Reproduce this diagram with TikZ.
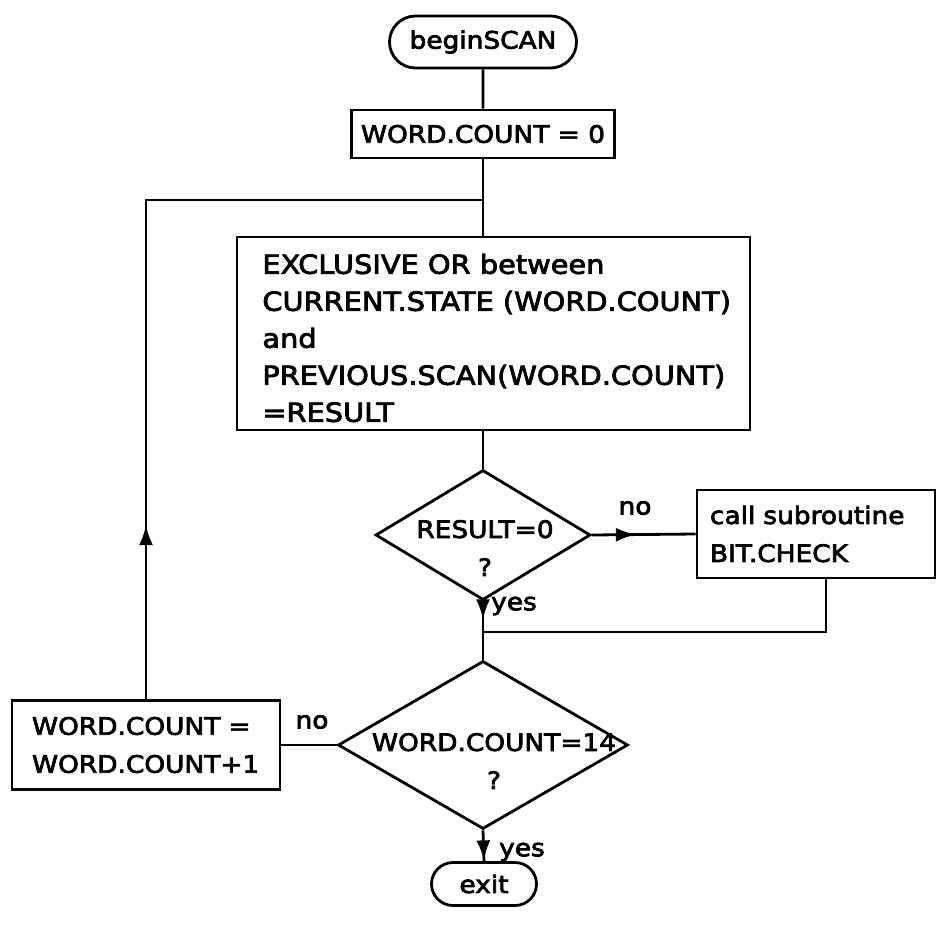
\documentclass[tikz,border=0pt]{standalone}
\usepackage{fontspec}
\setmainfont{DejaVu Sans}[FakeStretch=1.1,FakeBold=3]
\usetikzlibrary{shapes.geometric,shapes.misc,decorations.markings,arrows.meta}
\begin{document}
\begin{tikzpicture}[x=0.5pt,y=-0.5pt]
\tikzset{
  flowline/.style={line width=1.4pt},
  txt/.style={font=\fontsize{12}{19}\selectfont},
  box/.style={draw, flowline, txt, rectangle, inner sep=0pt},
  term/.style={draw, flowline, txt, rounded rectangle, inner sep=0pt},
  decision/.style={draw, flowline, diamond, inner sep=0pt},
  lbl/.style={txt, inner sep=0pt},
  arrowat/.style={postaction={decorate},
    decoration={markings, mark=at position #1 with {\arrow{Latex[length=10pt,width=7pt]}}}},
}
\path[use as bounding box] (0,0) rectangle (938,938);

% process steps
\node[term, minimum width=93.5pt, minimum height=26pt] (start) at (483,42) {beginSCAN};
\node[box, minimum width=131.5pt, minimum height=24pt] (init) at (483,134) {WORD.COUNT = 0};
\node[box, minimum width=256.5pt, minimum height=96.5pt] (big) at (493.5,333.5) {};
\node[anchor=west, inner sep=0pt, align=left, font=\fontsize{13.1}{18.5}\selectfont] (bigtext) at (262,338)
  {EXCLUSIVE OR between\\CURRENT.STATE (WORD.COUNT)\\and\\PREVIOUS.SCAN(WORD.COUNT)\\=RESULT};

% first decision
\node[decision, minimum width=107.5pt, minimum height=65pt] (d1) at (483,535) {};
\node[txt, align=center, inner sep=0pt] (d1t) at (485,548) {RESULT=0\\?};
\node[box, minimum width=119pt, minimum height=44pt, text width=106pt, align=left] (call) at (816,534)
  {call subroutine\\BIT.CHECK};

% second decision
\node[decision, minimum width=145pt, minimum height=84pt] (d2) at (483,745) {};
\node[txt, align=center, inner sep=0pt] (d2t) at (494,761) {WORD.COUNT=14\\?};
\node[box, minimum width=134pt, minimum height=44.5pt, text width=114pt, align=left] (inc) at (146,745)
  {WORD.COUNT =\\WORD.COUNT+1};

\node[term, minimum width=52.5pt, minimum height=21.5pt] (exit) at (484,884) {exit};

% branch labels
\node[lbl] (no1) at (635,508) {no};
\node[lbl] (yes1) at (514,606) {yes};
\node[lbl] (no2) at (312,722) {no};
\node[lbl] (yes2) at (522,852) {yes};

% junction points
\coordinate (j1) at (483,200);
\coordinate (j2) at (483,632);
\coordinate (j3) at (826,632);

% connectors
\draw[flowline] (start) -- (init);
\draw[flowline] (init.south) -- (init.south |- big.north);
\draw[flowline] (d1.north |- big.south) -- (d1.north);
\draw[flowline, arrowat=22pt] (d1.east) -- (call.west);
\draw[flowline, arrowat=9pt] (d1.south) -- (d2.north);
\draw[flowline] (call.south -| j3) -- (j3) -- (j2);
\draw[flowline] (d2.west) -- (inc.east);
\draw[flowline, arrowat=87pt] (inc.north) |- (j1);
\draw[flowline, arrowat=15pt] (d2.south) -- (exit.north);
\end{tikzpicture}
\end{document}
